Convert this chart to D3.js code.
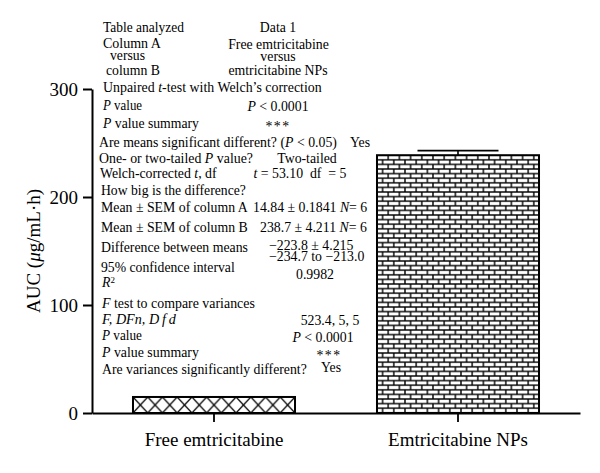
<!DOCTYPE html>
<html>
<head>
<meta charset="utf-8">
<script src="https://cdn.jsdelivr.net/npm/d3@7"></script>
<style>
  body { margin: 0; background: #fff; }
  svg { display: block; font-family: "Liberation Serif", "Times New Roman", serif; }
</style>
</head>
<body>
<script>
// chart.js

    // Bar data: mean AUC and SEM per formulation.
    var categories = ["Free emtricitabine", "Emtricitabine NPs"];
    var means = [14.84, 238.7];
    var sems = [0.1841, 4.211];
    var yTicks = [0, 100, 200, 300];

    // Welch t-test summary pasted from Prism. _x_ = italic, ^x^ = superscript.
    var tableLabels = [
        "Table analyzed", "Column A", "versus", "column B",
        "Unpaired _t_-test with Welch\u2019s correction",
        "_P_ value", "_P_ value summary",
        "Are means significant different? (_P_ < 0.05)",
        "One- or two-tailed _P_ value?",
        "Welch-corrected _t_, df",
        "How big is the difference?",
        "Mean \u00b1 SEM of column A", "Mean \u00b1 SEM of column B",
        "Difference between means", "95% confidence interval",
        "_R_^2^",
        "_F_ test to compare variances",
        "_F, DFn, D\u2009f\u2009d_",
        "_P_ value", "_P_ value summary",
        "Are variances significantly different?"
    ];
    var tableValues = [
        "Data 1", "Free emtricitabine", "versus", "emtricitabine NPs",
        "_P_ < 0.0001", "***", "Yes", "Two-tailed",
        "_t_ = 53.10  df  = 5",
        "14.84 \u00b1 0.1841 _N_= 6", "238.7 \u00b1 4.211 _N_= 6",
        "\u2212223.8 \u00b1 4.215", "\u2212234.7 to \u2212213.0", "0.9982",
        "523.4, 5, 5", "_P_ < 0.0001", "***", "Yes"
    ];

    // Where the table text sits (layout only).
    var labelX = [103, 103, 110, 106, 103, 103, 103, 99, 99, 100, 101, 101, 101, 101, 101, 102, 102, 102, 102, 102, 102];
    var labelY = [32, 48.5, 60.5, 75, 92, 110.5, 128.5, 147, 163, 178, 195, 212, 232, 252, 272, 287, 308.5, 324, 340.5, 357, 374.5];
    var labelW = [81, 58, 35, 54, 219, 40, 97, 238, 154, 117, 145, 147, 147, 147, 134, null, 154, 75, 41, 98, 205];
    var valueX = [278, 278.5, 278, 278, 278, 278, 350, 307, 300, 253, 260, 269, 269, 315, 330, 323, 329, 331];
    var valueY = [32, 48.5, 60.5, 75, 110.5, 131, 147, 163, 178, 212, 232, 250, 260.5, 279, 325, 341.5, 360, 371.5];
    var valueAnchor = ["middle", "middle", "middle", "middle", "middle", "middle", "start", "middle", "middle",
                       "start", "start", "start", "start", "middle", "middle", "middle", "middle", "middle"];

    var width = 600,
        height = 473,
        fontSize = 19,
        tableSize = 13.8;

    var viz = d3.select("body").append("svg")
                .attr("width", width)
                .attr("height", height);

    var xScale = d3.scaleBand()
                    .domain(categories)
                    .range([92, 580])
                    .paddingInner(0.336)
                    .paddingOuter(0.168);

    var yScale = d3.scaleLinear()
                    .domain([0, 300])
                    .range([413, 89]);

    var bw = xScale.bandwidth();

    // Writes a string with _italic_ and ^super^ bits as tspans.
    function rich(sel, str) {
        var italic = false, sup = false;
        str.split(/([_^])/).forEach(function(part) {
            if (part === "_") { italic = !italic; return; }
            if (part === "^") { sup = !sup; return; }
            if (!part) return;
            var t = sel.append("tspan").text(part)
                .style("font-style", italic ? "italic" : null);
            if (sup) t.attr("dy", "-0.45em").style("font-size", "0.65em");
        });
    }

    // Hatch patterns for the two bars.
    var defs = viz.append("defs");

    var crossH = yScale(0) - yScale(means[0]),
        crossW = bw / 11;
    var cross = defs.append("pattern")
        .attr("id", "cross")
        .attr("patternUnits", "userSpaceOnUse")
        .attr("x", xScale(categories[0]))
        .attr("y", yScale(means[0]))
        .attr("width", crossW)
        .attr("height", crossH);
    cross.append("rect").attr("width", crossW).attr("height", crossH).attr("fill", "#fff");
    cross.append("path")
        .attr("d", "M0,0L" + crossW + "," + crossH + "M" + crossW + ",0L0," + crossH)
        .attr("stroke", "#000")
        .attr("stroke-width", 1.3);

    var brickW = 11.2, rowH = 4.6;
    var brick = defs.append("pattern")
        .attr("id", "brick")
        .attr("patternUnits", "userSpaceOnUse")
        .attr("x", xScale(categories[1]))
        .attr("y", yScale(means[1]))
        .attr("width", brickW)
        .attr("height", rowH * 2);
    brick.append("rect").attr("width", brickW).attr("height", rowH * 2).attr("fill", "#fff");
    brick.append("path")
        .attr("d", "M0,0H" + brickW + "M0," + rowH + "H" + brickW + "M0," + (2 * rowH) + "H" + brickW +
                   "M0,0V" + rowH + "M" + brickW + ",0V" + rowH +
                   "M" + (brickW / 2) + "," + rowH + "V" + (2 * rowH))
        .attr("stroke", "#000")
        .attr("stroke-width", 1.4);

    // Draws the table text. Labels are squeezed/stretched in x to the widths seen in the source.
    tableLabels.forEach(function(s, i) {
        var t = viz.append("text")
            .attr("x", labelX[i])
            .attr("y", labelY[i])
            .style("font-size", tableSize + "px")
            .style("white-space", "pre");
        rich(t, s);
        if (labelW[i]) {
            var w = t.node().getBBox().width;
            var k = Math.max(0.85, Math.min(1.2, labelW[i] / w));
            t.attr("transform", "translate(" + labelX[i] + ",0) scale(" + k + ",1) translate(" + (-labelX[i]) + ",0)");
        }
    });
    tableValues.forEach(function(s, i) {
        var t = viz.append("text")
            .attr("x", valueX[i])
            .attr("y", valueY[i])
            .attr("text-anchor", valueAnchor[i])
            .style("font-size", tableSize + "px")
            .style("white-space", "pre")
            .style("letter-spacing", s === "***" ? "1.5px" : null);
        rich(t, s);
    });

    // Adds the bars.
    viz.selectAll("rect.bar").data(categories)
        .enter().append("rect")
        .attr("class", "bar")
        .attr("x", function(d) { return xScale(d); })
        .attr("y", function(d, i) { return yScale(means[i]); })
        .attr("width", bw)
        .attr("height", function(d, i) { return yScale(0) - yScale(means[i]); })
        .attr("fill", function(d, i) { return i === 0 ? "url(#cross)" : "url(#brick)"; })
        .attr("stroke", "#000")
        .attr("stroke-width", 2);

    // Error bars (upper side only).
    viz.selectAll("path.err").data(categories)
        .enter().append("path")
        .attr("class", "err")
        .attr("d", function(d, i) {
            var cx = xScale(d) + bw / 2,
                top = yScale(means[i] + sems[i]);
            return "M" + cx + "," + yScale(means[i]) + "V" + top +
                   "M" + (cx - bw / 4) + "," + top + "H" + (cx + bw / 4);
        })
        .attr("fill", "none")
        .attr("stroke", "#000")
        .attr("stroke-width", 1.6);

    // Draws y axis with labels.
    var yAxis = d3.axisLeft(yScale)
        .tickValues(yTicks)
        .tickSize(9)
        .tickSizeOuter(0)
        .tickPadding(5);

    var gy = viz.append("g")
        .attr("transform", "translate(92,0)")
        .call(yAxis)
        .attr("font-family", null)
        .attr("font-size", fontSize);
    gy.selectAll("path, line").attr("stroke", "#000").attr("stroke-width", 2);
    gy.selectAll("text").attr("fill", "#000");

    // Draws x axis with labels.
    var xAxis = d3.axisBottom(xScale)
        .tickSize(9)
        .tickSizeOuter(0)
        .tickPadding(10.5);

    var gx = viz.append("g")
        .attr("transform", "translate(0,413)")
        .call(xAxis)
        .attr("font-family", null)
        .attr("font-size", fontSize);
    gx.selectAll("path, line").attr("stroke", "#000").attr("stroke-width", 1.8);
    gx.selectAll("text").attr("fill", "#000");

    // Axis title.
    var yl = viz.append("text")
        .attr("transform", "translate(40,251) rotate(-90)")
        .attr("text-anchor", "middle")
        .style("font-size", fontSize + "px");
    rich(yl, "AUC (_\u03bc_g/mL\u00b7h)");

</script>
</body>
</html>
